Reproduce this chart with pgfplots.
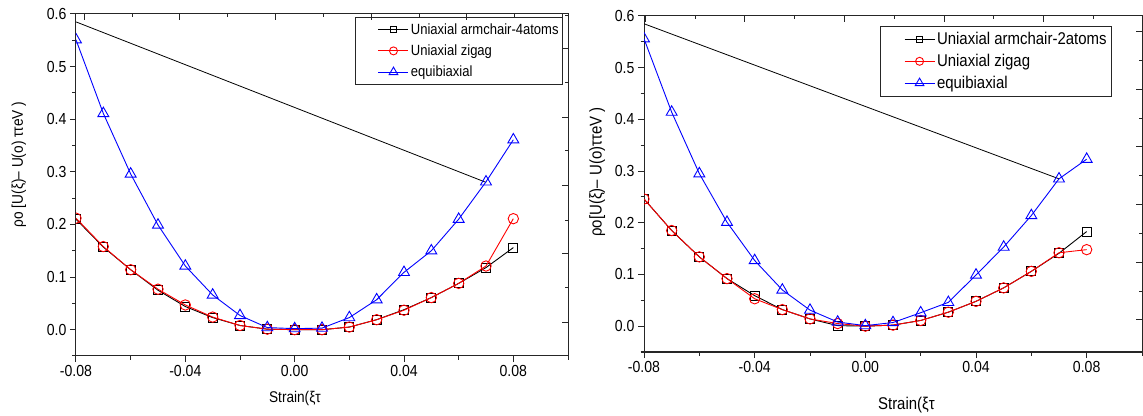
\documentclass[border=0pt]{standalone}
\usepackage{fontspec}
\setmainfont{Liberation Sans}[FakeStretch=0.88]
\usepackage{pgfplots}
\pgfplotsset{compat=1.18}
\pgfplotsset{
  base/.style={
    scale only axis, anchor=south west,
    xmin=-0.08, xmax=0.1, ymin=-0.05, ymax=0.6,
    axis line style={line width=1pt, black!85},
    tick style={line width=1pt, black!85},
    major tick length=6pt, minor tick length=3.5pt,
  },
  main/.style={base,
    xtick={-0.08,-0.04,0,0.04,0.08}, minor xtick={-0.06,-0.02,0.02,0.06,0.1},
    ytick={0,0.1,0.2,0.3,0.4,0.5,0.6}, minor ytick={-0.05,0.05,0.15,0.25,0.35,0.45,0.55},
    xtick pos=left, ytick pos=left, tick align=outside,
    /pgf/number format/assume math mode=true,
    xticklabel style={/pgf/number format/fixed, /pgf/number format/fixed zerofill, /pgf/number format/precision=2},
    yticklabel style={/pgf/number format/fixed, /pgf/number format/fixed zerofill, /pgf/number format/precision=1},
    legend cell align=left,
    clip marker paths=true,
  },
  over/.style={base, axis line style={draw=none},
    xtick pos=right, ytick pos=right, tick align=inside,
    xticklabels={}, yticklabels={},
  },
  sq/.style={black, line width=0.9pt, mark=square, mark size=4.5pt, mark options={solid, fill=white, line width=0.9pt},
    legend image code/.code={\path (-21pt,0pt); \draw[mark repeat=2,mark phase=2, mark size=3pt] plot coordinates {(0pt,0pt) (15pt,0pt) (30pt,0pt)};}},
  ci/.style={red, line width=0.9pt, mark=o, mark size=5.2pt, mark options={solid, fill=white, line width=0.9pt},
    legend image code/.code={\path (-21pt,0pt); \draw[mark repeat=2,mark phase=2, mark size=4pt] plot coordinates {(0pt,0pt) (15pt,0pt) (30pt,0pt)};}},
  tr/.style={blue, line width=0.9pt, mark=triangle, mark size=6.3pt, mark options={solid, fill=white, line width=0.9pt},
    legend image code/.code={\path (-21pt,0pt); \draw[mark repeat=2,mark phase=2, mark size=5pt] plot coordinates {(0pt,0pt) (15pt,0pt) (30pt,0pt)};}},
}
\begin{document}
\begin{tikzpicture}
\path[use as bounding box] (0,0) rectangle (1143pt,415pt);
% ---------------- left panel ----------------
\begin{axis}[main, at={(76pt,59pt)}, width=492pt, height=342pt,
  ticklabel style={font=\fontsize{16}{18}\selectfont},
  xlabel={Strain(ξτ}, ylabel={ρο [U(ξ)– U(ο) ττeV )},
  xlabel style={font=\fontsize{15.5}{18}\selectfont, at={(axis description cs:0.445,-0.123)}, anchor=center},
  ylabel style={font=\fontsize{15.5}{18}\selectfont, at={(axis description cs:-0.116,0.56)}, anchor=center},
  legend style={at={(rel axis cs:0.990,0.991)}, anchor=north east, draw=black!85, line width=1pt,
    font=\fontsize{14.8}{17}\selectfont, inner xsep=2pt, inner ysep=4pt, row sep=5pt},
]
\addplot[black, line width=0.8pt, forget plot] coordinates {(-0.08,0.585) (0.07,0.28)};
\addplot[sq] coordinates {(-0.08,0.210) (-0.07,0.157) (-0.06,0.114) (-0.05,0.075) (-0.04,0.044) (-0.03,0.023) (-0.02,0.008) (-0.01,0.001) (0,0) (0.01,0) (0.02,0.005) (0.03,0.019) (0.04,0.038) (0.05,0.061) (0.06,0.088) (0.07,0.118) (0.08,0.156)};
\addlegendentry{Uniaxial armchair-4atoms}
\addplot[ci] coordinates {(-0.08,0.212) (-0.07,0.158) (-0.06,0.114) (-0.05,0.077) (-0.04,0.047) (-0.03,0.024) (-0.02,0.008) (-0.01,0.001) (0,0) (0.01,0) (0.02,0.005) (0.03,0.019) (0.04,0.037) (0.05,0.061) (0.06,0.088) (0.07,0.121) (0.08,0.211)};
\addlegendentry{Uniaxial zigag}
\addplot[tr] coordinates {(-0.08,0.551) (-0.07,0.411) (-0.06,0.296) (-0.05,0.199) (-0.04,0.121) (-0.03,0.066) (-0.02,0.027) (-0.01,0.004) (0,0.002) (0.01,0.003) (0.02,0.023) (0.03,0.057) (0.04,0.109) (0.05,0.150) (0.06,0.210) (0.07,0.281) (0.08,0.361)};
\addlegendentry{equibiaxial}
\end{axis}
\begin{axis}[over, at={(76pt,59pt)}, width=492pt, height=342pt,
  xtick={-0.077,-0.042,-0.007,0.028,0.063,0.098}, minor xtick={-0.0595,-0.0245,0.0105,0.0455,0.0805},
  ytick={0.013,0.145,0.274,0.404,0.535}, minor ytick={0.080,0.208,0.341,0.470,0.598}]
\end{axis}
% ---------------- right panel ----------------
\begin{axis}[main, at={(644pt,63pt)}, width=498pt, height=336pt,
  ticklabel style={font=\fontsize{16}{18}\selectfont},
  xlabel={Strain(ξτ}, ylabel={ρo[U(ξ)– U(o)ττeV )},
  xlabel style={font=\fontsize{17}{20}\selectfont, at={(axis description cs:0.527,-0.158)}, anchor=center},
  ylabel style={font=\fontsize{17}{20}\selectfont, at={(axis description cs:-0.094,0.536)}, anchor=center},
  legend style={at={(rel axis cs:0.94,0.970)}, anchor=north east, draw=black!85, line width=1pt,
    font=\fontsize{17}{20}\selectfont, inner xsep=3pt, inner ysep=4pt, row sep=4pt},
]
\addplot[black, line width=0.8pt, forget plot] coordinates {(-0.08,0.585) (0.07,0.285)};
\addplot[sq] coordinates {(-0.08,0.246) (-0.07,0.185) (-0.06,0.134) (-0.05,0.092) (-0.04,0.059) (-0.03,0.032) (-0.02,0.014) (-0.01,0.001) (0,0) (0.01,0.002) (0.02,0.011) (0.03,0.027) (0.04,0.048) (0.05,0.074) (0.06,0.106) (0.07,0.141) (0.08,0.183)};
\addlegendentry{Uniaxial armchair-2atoms}
\addplot[ci] coordinates {(-0.08,0.246) (-0.07,0.185) (-0.06,0.134) (-0.05,0.092) (-0.04,0.053) (-0.03,0.032) (-0.02,0.014) (-0.01,0.005) (0,0) (0.01,0.002) (0.02,0.011) (0.03,0.027) (0.04,0.048) (0.05,0.074) (0.06,0.106) (0.07,0.142) (0.08,0.148)};
\addlegendentry{Uniaxial zigag}
\addplot[tr] coordinates {(-0.08,0.556) (-0.07,0.414) (-0.06,0.295) (-0.05,0.201) (-0.04,0.127) (-0.03,0.070) (-0.02,0.031) (-0.01,0.008) (0,0.001) (0.01,0.007) (0.02,0.026) (0.03,0.046) (0.04,0.099) (0.05,0.153) (0.06,0.214) (0.07,0.285) (0.08,0.323)};
\addlegendentry{equibiaxial}
\end{axis}
\begin{axis}[over, at={(644pt,63pt)}, width=498pt, height=336pt,
  xtick={-0.0795,-0.0435,-0.0075,0.0285,0.0645}, minor xtick={-0.0615,-0.0255,0.0105,0.0465,0.0825},
  ytick={0.012,0.124,0.235,0.347,0.458,0.570}, minor ytick={0.068,0.179,0.291,0.402,0.514}]
\end{axis}
\end{tikzpicture}
\end{document}
